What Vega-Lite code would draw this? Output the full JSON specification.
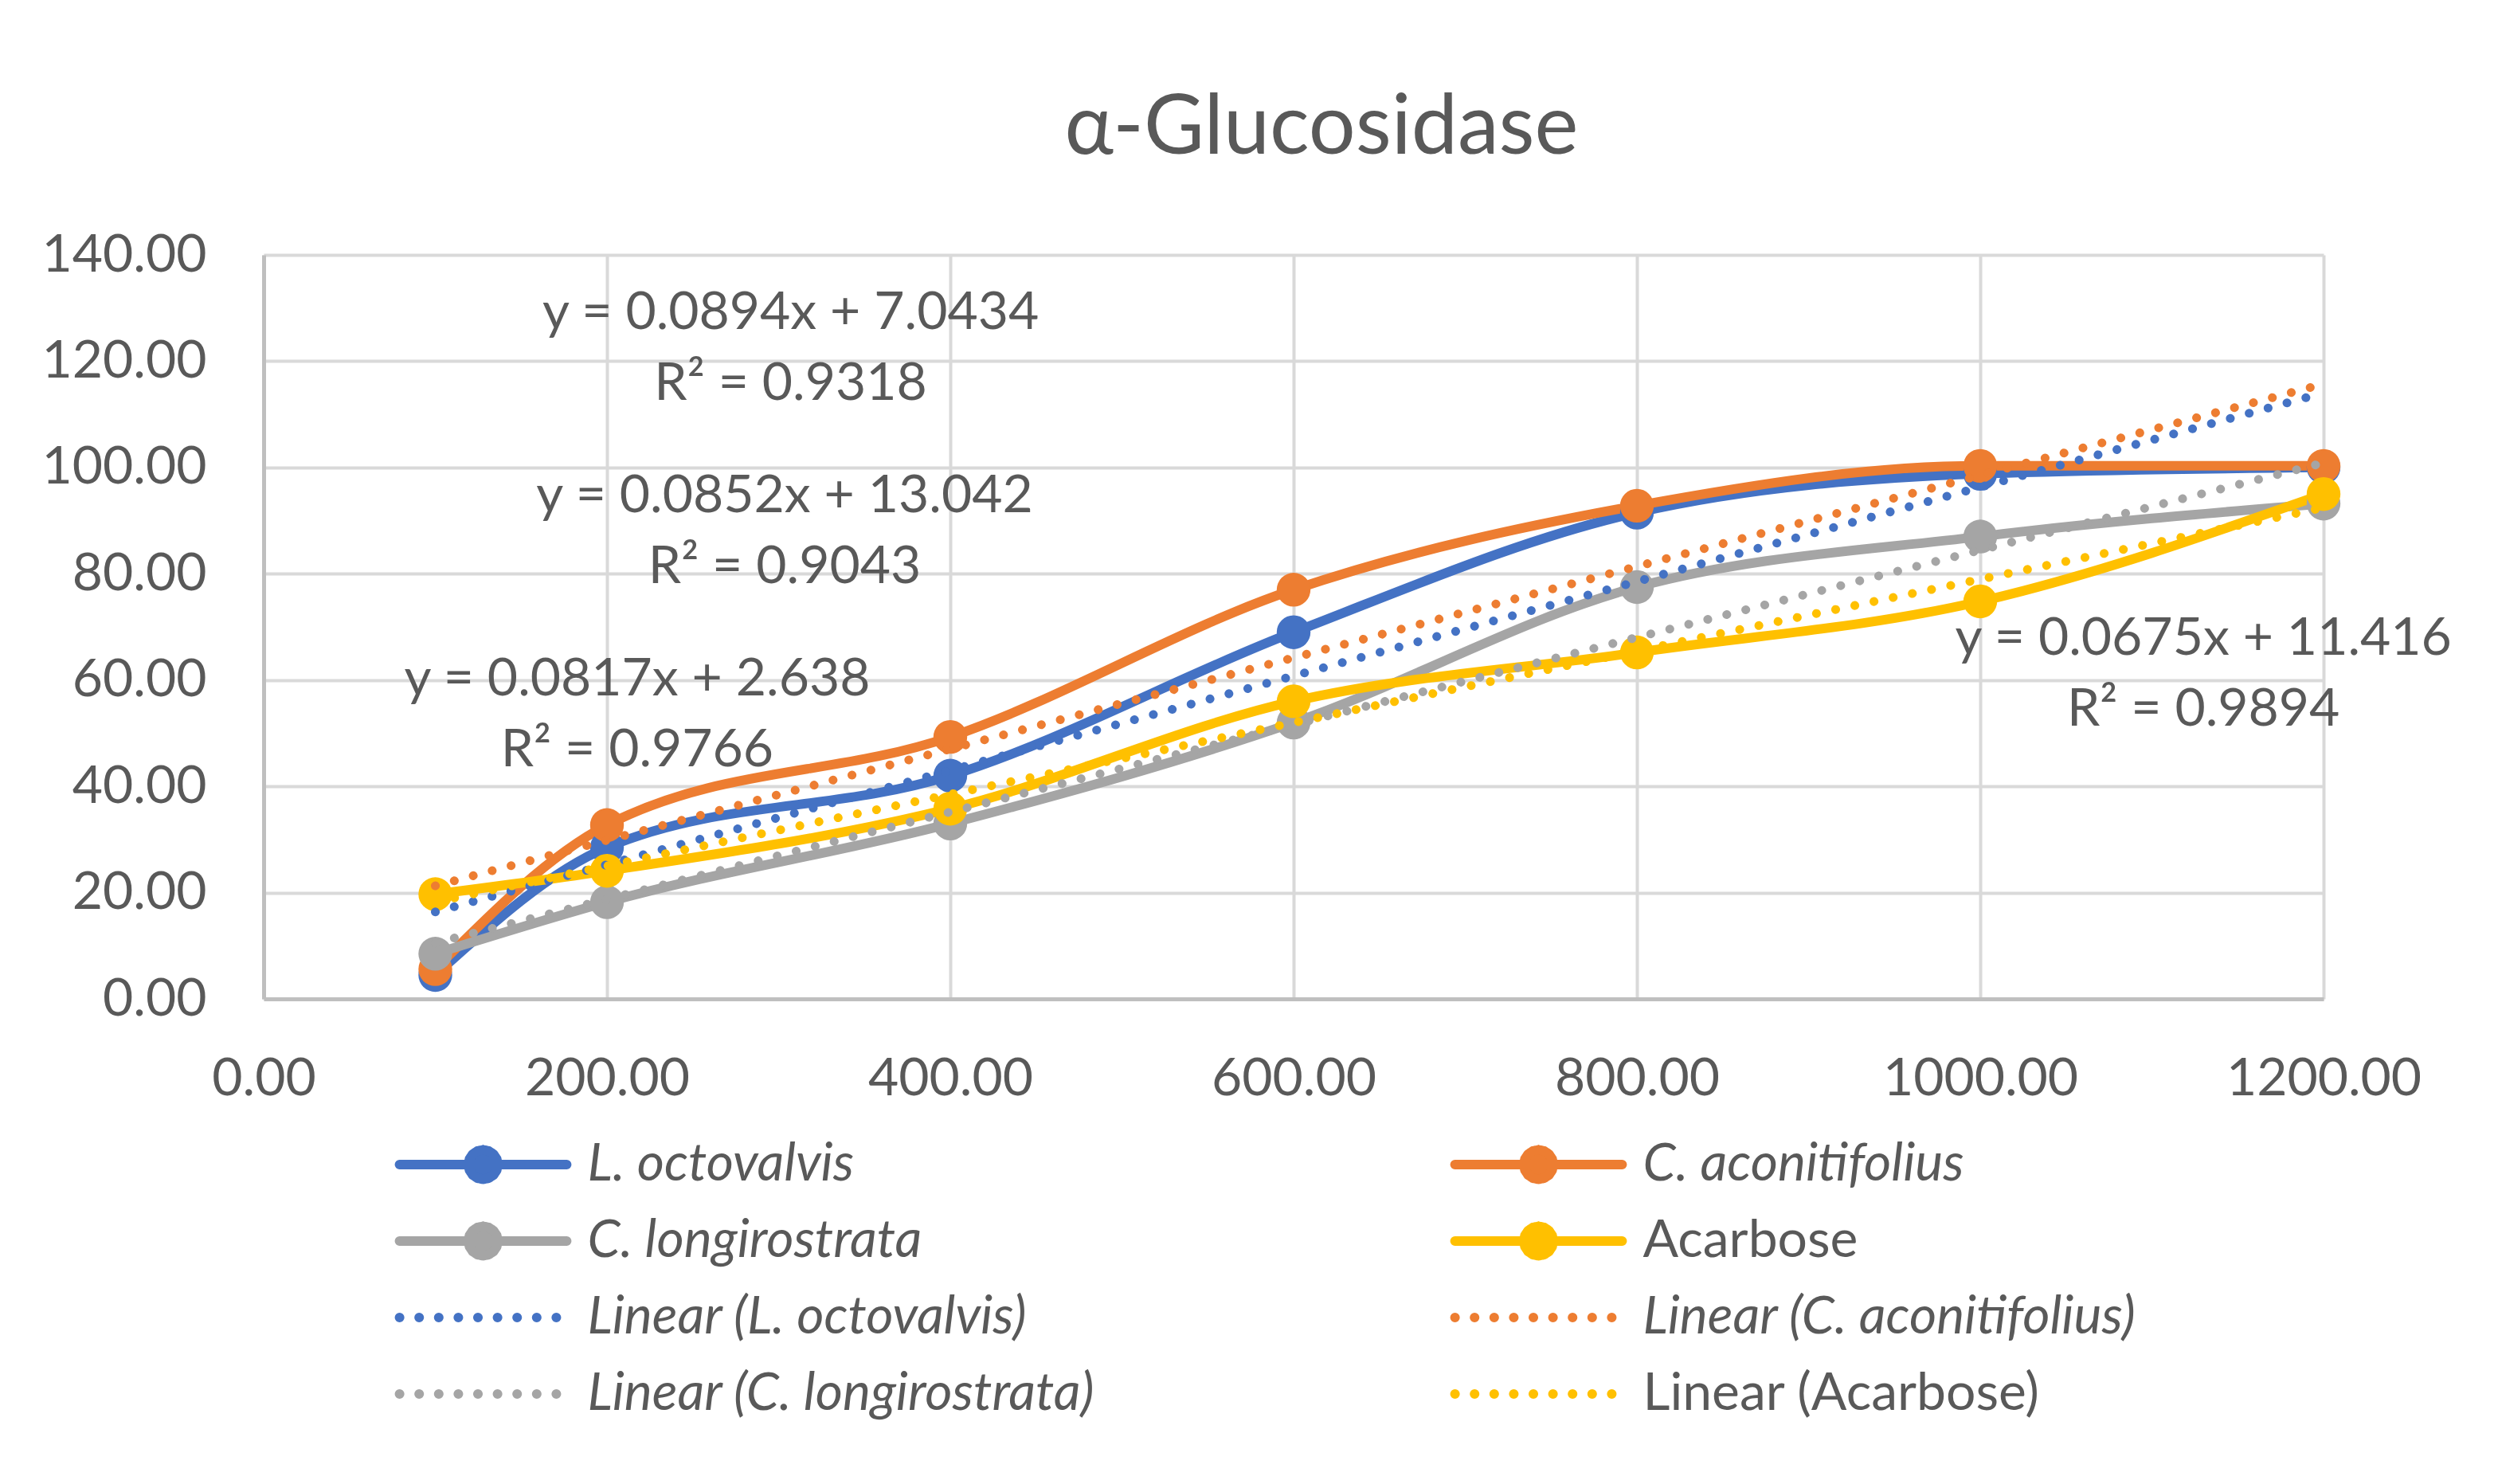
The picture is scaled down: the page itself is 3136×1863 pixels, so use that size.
{
  "$schema": "https://vega.github.io/schema/vega-lite/v6.json",
  "width": 2586,
  "height": 934,
  "padding": {"left": 52, "top": 110, "right": 20, "bottom": 20},
  "background": "white",
  "title": {
    "text": "α-Glucosidase",
    "fontSize": 104,
    "fontWeight": "normal",
    "color": "#595959",
    "font": "Lato",
    "anchor": "middle",
    "frame": "group",
    "dx": 35,
    "offset": 72
  },
  "datasets": {
    "measurements": [
      {"series": "L. octovalvis", "trend": "Linear (L. octovalvis)", "conc": 100, "inhibition": 4.5},
      {"series": "L. octovalvis", "trend": "Linear (L. octovalvis)", "conc": 200, "inhibition": 28.5},
      {"series": "L. octovalvis", "trend": "Linear (L. octovalvis)", "conc": 400, "inhibition": 42.0},
      {"series": "L. octovalvis", "trend": "Linear (L. octovalvis)", "conc": 600, "inhibition": 69.0},
      {"series": "L. octovalvis", "trend": "Linear (L. octovalvis)", "conc": 800, "inhibition": 91.5},
      {"series": "L. octovalvis", "trend": "Linear (L. octovalvis)", "conc": 1000, "inhibition": 98.8},
      {"series": "L. octovalvis", "trend": "Linear (L. octovalvis)", "conc": 1200, "inhibition": 100.0},
      {"series": "C. aconitifolius", "trend": "Linear (C. aconitifolius)", "conc": 100, "inhibition": 5.6},
      {"series": "C. aconitifolius", "trend": "Linear (C. aconitifolius)", "conc": 200, "inhibition": 32.7},
      {"series": "C. aconitifolius", "trend": "Linear (C. aconitifolius)", "conc": 400, "inhibition": 49.3},
      {"series": "C. aconitifolius", "trend": "Linear (C. aconitifolius)", "conc": 600, "inhibition": 77.0},
      {"series": "C. aconitifolius", "trend": "Linear (C. aconitifolius)", "conc": 800, "inhibition": 92.8},
      {"series": "C. aconitifolius", "trend": "Linear (C. aconitifolius)", "conc": 1000, "inhibition": 100.3},
      {"series": "C. aconitifolius", "trend": "Linear (C. aconitifolius)", "conc": 1200, "inhibition": 100.3},
      {"series": "C. longirostrata", "trend": "Linear (C. longirostrata)", "conc": 100, "inhibition": 8.5},
      {"series": "C. longirostrata", "trend": "Linear (C. longirostrata)", "conc": 200, "inhibition": 18.2},
      {"series": "C. longirostrata", "trend": "Linear (C. longirostrata)", "conc": 400, "inhibition": 33.0},
      {"series": "C. longirostrata", "trend": "Linear (C. longirostrata)", "conc": 600, "inhibition": 52.0},
      {"series": "C. longirostrata", "trend": "Linear (C. longirostrata)", "conc": 800, "inhibition": 77.5},
      {"series": "C. longirostrata", "trend": "Linear (C. longirostrata)", "conc": 1000, "inhibition": 87.0},
      {"series": "C. longirostrata", "trend": "Linear (C. longirostrata)", "conc": 1200, "inhibition": 93.2},
      {"series": "Acarbose", "trend": "Linear (Acarbose)", "conc": 100, "inhibition": 19.7},
      {"series": "Acarbose", "trend": "Linear (Acarbose)", "conc": 200, "inhibition": 24.1},
      {"series": "Acarbose", "trend": "Linear (Acarbose)", "conc": 400, "inhibition": 35.8},
      {"series": "Acarbose", "trend": "Linear (Acarbose)", "conc": 600, "inhibition": 56.0},
      {"series": "Acarbose", "trend": "Linear (Acarbose)", "conc": 800, "inhibition": 65.2},
      {"series": "Acarbose", "trend": "Linear (Acarbose)", "conc": 1000, "inhibition": 74.8},
      {"series": "Acarbose", "trend": "Linear (Acarbose)", "conc": 1200, "inhibition": 95.0}
    ],
    "equations": [
      {"label": "y = 0.0894x + 7.0434\nR² = 0.9318", "conc": 307, "inhibition": 126.1},
      {"label": "y = 0.0852x + 13.042\nR² = 0.9043", "conc": 303.5, "inhibition": 91.6},
      {"label": "y = 0.0817x + 2.638\nR² = 0.9766", "conc": 217.6, "inhibition": 57.1},
      {"label": "y = 0.0675x + 11.416\nR² = 0.9894", "conc": 1130, "inhibition": 64.8}
    ]
  },
  "encoding": {
    "x": {
      "field": "conc",
      "type": "quantitative",
      "scale": {"domain": [0, 1200], "nice": false, "zero": true},
      "axis": {"values": [0, 200, 400, 600, 800, 1000, 1200], "format": ".2f", "labelPadding": 68}
    },
    "y": {
      "field": "inhibition",
      "type": "quantitative",
      "scale": {"domain": [0, 140], "nice": false, "zero": true},
      "axis": {"values": [0, 20, 40, 60, 80, 100, 120, 140], "format": ".2f", "labelPadding": 72}
    }
  },
  "layer": [
    {
      "data": {"name": "measurements"},
      "mark": {"type": "line", "interpolate": "monotone", "strokeWidth": 12, "strokeCap": "round", "strokeJoin": "round"},
      "encoding": {
        "color": {
          "field": "series",
          "type": "nominal",
          "scale": {
            "domain": ["L. octovalvis", "C. aconitifolius", "C. longirostrata", "Acarbose", "Linear (L. octovalvis)", "Linear (C. aconitifolius)", "Linear (C. longirostrata)", "Linear (Acarbose)"],
            "range": ["#4472C4", "#ED7D31", "#A5A5A5", "#FFC000", "#4472C4", "#ED7D31", "#A5A5A5", "#FFC000"]
          },
          "legend": {
            "title": null,
            "orient": "none",
            "legendX": 165,
            "legendY": 1109,
            "direction": "horizontal",
            "columns": 2,
            "columnPadding": 445,
            "rowPadding": 30,
            "padding": 0,
            "symbolSize": 1936,
            "symbolStrokeWidth": 12,
            "symbolOffset": 77.5,
            "labelFont": "Lato",
            "labelFontSize": 66,
            "labelColor": "#595959",
            "labelOffset": 98,
            "labelLimit": 0,
            "encode": {
              "symbols": {
                "update": {
                  "shape": [
                    {"test": "indexof(datum.value, 'Linear') === 0", "value": "M-4.77,0L4.77,0"},
                    {"value": "M-4.77,0L4.77,0M0.84,0L0.776,0.321L0.594,0.594L0.321,0.776L0,0.84L-0.321,0.776L-0.594,0.594L-0.776,0.321L-0.84,0L-0.776,-0.321L-0.594,-0.594L-0.321,-0.776L0,-0.84L0.321,-0.776L0.594,-0.594L0.776,-0.321Z"}
                  ],
                  "strokeDash": [
                    {"test": "indexof(datum.value, 'Linear') === 0", "value": [0.1, 24.5]},
                    {"value": [1, 0]}
                  ],
                  "strokeCap": {"value": "round"},
                  "strokeJoin": {"value": "round"},
                  "opacity": {"value": 1}
                }
              },
              "labels": {
                "update": {
                  "fontStyle": [
                    {"test": "datum.value === 'Acarbose' || datum.value === 'Linear (Acarbose)'", "value": "normal"},
                    {"value": "italic"}
                  ]
                }
              }
            }
          }
        }
      }
    },
    {
      "data": {"name": "measurements"},
      "mark": {"type": "point", "filled": true, "size": 1800, "opacity": 1, "shape": "circle"},
      "encoding": {
        "color": {"field": "series", "type": "nominal"}
      }
    },
    {
      "data": {"name": "measurements"},
      "transform": [
        {"regression": "inhibition", "on": "conc", "groupby": ["trend"], "method": "linear", "extent": [100, 1200]}
      ],
      "mark": {"type": "line", "strokeWidth": 11, "strokeCap": "round", "strokeDash": [0.1, 24.5]},
      "encoding": {
        "color": {"field": "trend", "type": "nominal"}
      }
    },
    {
      "data": {"name": "equations"},
      "mark": {"type": "text", "lineBreak": "\n", "font": "Lato", "fontSize": 66, "color": "#595959", "align": "center", "baseline": "alphabetic", "lineHeight": 89},
      "encoding": {
        "text": {"field": "label", "type": "nominal"}
      }
    }
  ],
  "config": {
    "font": "Lato",
    "view": {"stroke": null},
    "axis": {
      "title": null,
      "grid": true,
      "gridColor": "#D9D9D9",
      "gridWidth": 4,
      "domainColor": "#BFBFBF",
      "domainWidth": 5,
      "ticks": false,
      "labelFont": "Lato",
      "labelFontSize": 66,
      "labelColor": "#595959",
      "labelLimit": 0,
      "labelFlush": false,
      "labelOverlap": false
    }
  }
}
